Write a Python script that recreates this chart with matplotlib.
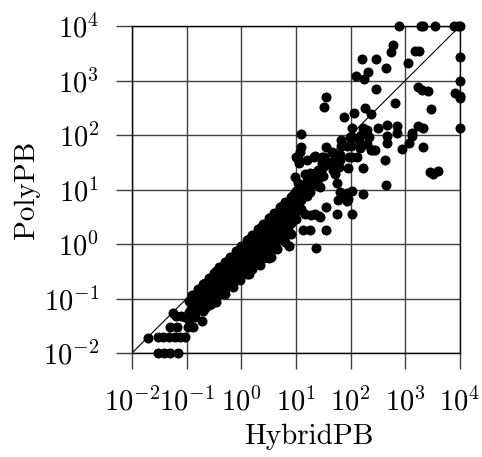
import matplotlib
matplotlib.use("Agg")
import matplotlib.pyplot as plt

plt.rcParams['mathtext.fontset'] = 'cm'
plt.rcParams['font.family'] = 'cmr10'
plt.rcParams['axes.formatter.use_mathtext'] = True

# run times (HybridPB on x, PolyPB on y)
# tiny instances, bottom left
low_x = [0.020, 0.030, 0.037, 0.048, 0.061, 0.076, 0.093, 0.030, 0.039, 0.050,
         0.070, 0.050, 0.066, 0.105, 0.13, 0.063, 0.079, 0.093, 0.19, 0.056]
low_y = [0.019, 0.020, 0.020, 0.020, 0.020, 0.020, 0.020, 0.010, 0.010, 0.010,
         0.010, 0.030, 0.030, 0.030, 0.030, 0.048, 0.048, 0.046, 0.039, 0.054]

# the dense band just under the diagonal
band_x = [0.11, 0.11, 0.11,
          0.14, 0.14, 0.14, 0.14,
          0.18, 0.18, 0.18,
          0.22, 0.22, 0.22, 0.22,
          0.28, 0.28, 0.28, 0.28,
          0.35, 0.35, 0.35, 0.35,
          0.45, 0.45, 0.45, 0.45,
          0.56, 0.56, 0.56, 0.56,
          0.71, 0.71, 0.71, 0.71,
          0.89, 0.89, 0.89, 0.89, 0.89,
          1.12, 1.12, 1.12, 1.12,
          1.41, 1.41, 1.41, 1.41, 1.41,
          1.78, 1.78, 1.78, 1.78, 1.78,
          2.24, 2.24, 2.24, 2.24,
          2.82, 2.82, 2.82, 2.82, 2.82,
          3.55, 3.55, 3.55, 3.55, 3.55,
          4.47, 4.47, 4.47, 4.47,
          5.62, 5.62, 5.62, 5.62, 5.62,
          7.08, 7.08, 7.08, 7.08,
          8.91, 8.91, 8.91, 8.91,
          11.2, 11.2, 11.2,
          14.1, 14.1,
          17.8, 17.8,
          22.4, 22.4,
          28.2]
band_y = [0.089, 0.056, 0.040,
          0.117, 0.085, 0.059, 0.045,
          0.135, 0.093, 0.063,
          0.195, 0.141, 0.10, 0.068,
          0.224, 0.158, 0.112, 0.079,
          0.316, 0.234, 0.170, 0.117,
          0.339, 0.245, 0.170, 0.126,
          0.479, 0.355, 0.257, 0.178,
          0.562, 0.407, 0.295, 0.20,
          0.776, 0.589, 0.447, 0.324, 0.234,
          0.891, 0.676, 0.49, 0.355,
          1.26, 0.977, 0.741, 0.537, 0.389,
          1.45, 1.07, 0.794, 0.562, 0.427,
          1.95, 1.48, 1.12, 0.794,
          2.24, 1.62, 1.17, 0.794, 0.589,
          3.16, 2.40, 1.78, 1.29, 0.891,
          3.63, 2.69, 1.95, 1.35,
          4.90, 3.72, 2.69, 1.86, 1.26,
          5.62, 4.07, 2.82, 1.86,
          7.94, 5.89, 4.17, 2.82,
          8.91, 6.31, 4.27,
          11.7, 8.51,
          13.5, 8.91,
          20.0, 14.8,
          20.0]

# more of the band, the columns in between
band2_x = [0.126, 0.126, 0.126, 0.126,
           0.158, 0.158, 0.158, 0.158,
           0.20, 0.20, 0.20, 0.20, 0.20,
           0.251, 0.251, 0.251, 0.251, 0.251,
           0.316, 0.316, 0.316, 0.316, 0.316,
           0.398, 0.398, 0.398, 0.398, 0.398,
           0.501, 0.501, 0.501, 0.501, 0.501,
           0.631, 0.631, 0.631, 0.631, 0.631,
           0.794, 0.794, 0.794, 0.794, 0.794,
           1.0, 1.0, 1.0, 1.0, 1.0,
           1.26, 1.26, 1.26, 1.26, 1.26, 1.26,
           1.58, 1.58, 1.58, 1.58, 1.58, 1.58,
           2.0, 2.0, 2.0, 2.0, 2.0, 2.0,
           2.51, 2.51, 2.51, 2.51, 2.51, 2.51,
           3.16, 3.16, 3.16, 3.16, 3.16, 3.16,
           3.98, 3.98, 3.98, 3.98, 3.98, 3.98,
           5.01, 5.01, 5.01, 5.01, 5.01,
           6.31, 6.31, 6.31, 6.31, 6.31, 6.31,
           7.94, 7.94, 7.94, 7.94, 7.94,
           10.0, 10.0, 10.0, 10.0, 10.0,
           12.6, 12.6, 12.6, 12.6,
           15.8, 15.8, 15.8,
           20.0, 20.0,
           25.1, 25.1,
           31.6, 31.6]
band2_y = [0.117, 0.089, 0.068, 0.050,
           0.148, 0.112, 0.085, 0.063,
           0.186, 0.141, 0.107, 0.079, 0.060,
           0.234, 0.178, 0.135, 0.10, 0.076,
           0.295, 0.224, 0.170, 0.126, 0.095,
           0.372, 0.282, 0.214, 0.158, 0.120,
           0.468, 0.355, 0.269, 0.20, 0.151,
           0.589, 0.447, 0.339, 0.251, 0.191,
           0.741, 0.562, 0.427, 0.316, 0.240,
           0.933, 0.708, 0.537, 0.398, 0.302,
           1.17, 0.891, 0.676, 0.501, 0.380, 0.282,
           1.48, 1.12, 0.851, 0.631, 0.479, 0.355,
           1.86, 1.41, 1.07, 0.794, 0.603, 0.447,
           2.34, 1.78, 1.35, 1.0, 0.759, 0.562,
           2.95, 2.24, 1.70, 1.26, 0.955, 0.708,
           3.72, 2.82, 2.14, 1.58, 1.20, 0.891,
           4.68, 3.55, 2.69, 2.0, 1.51,
           5.89, 4.47, 3.39, 2.51, 1.91, 1.41,
           7.41, 5.62, 4.27, 3.16, 2.40,
           9.33, 7.08, 5.37, 3.98, 2.82,
           11.7, 8.91, 6.31, 4.47,
           14.1, 10.5, 7.59,
           16.6, 12.0,
           22.4, 15.8,
           26.0, 18.0]

# lower edge of the band
edge_low_x = [0.35, 0.50, 0.71, 1.41, 2.24, 3.16, 4.47, 6.3, 8.0]
edge_low_y = [0.085, 0.12, 0.16, 0.28, 0.42, 0.55, 0.80, 1.1, 1.5]

# scattered points below the band
mid_x = [0.96, 4.2, 3.5, 7.6, 13.5, 18, 23, 35, 22, 26, 36, 14.5, 19, 28, 57,
         59, 71, 104, 91, 107, 170, 440, 85, 85, 56, 63]
mid_y = [0.22, 1.0, 0.58, 0.93, 1.8, 1.8, 0.83, 1.8, 3.6, 3.2, 4.7, 3.6, 3.4, 3.1, 3.6,
         6.5, 8.0, 3.6, 6.6, 9.5, 8.1, 12, 8.5, 6.1, 13, 9.1]

# points around 10..100
near_x = [9.5, 11, 18, 14.5, 26, 34, 28, 51, 10.2, 11.4, 16, 22, 30, 11.8, 11,
          21, 32, 30, 45, 46, 61, 51, 42, 63, 48, 61, 63, 59, 85, 98, 105, 93,
          91, 170, 426, 12.6, 12.6, 35, 130, 147, 235, 277, 160]
near_y = [17, 13, 20, 19, 20, 28, 11, 19, 39, 31, 35, 42, 40, 49, 37,
          40, 40, 30, 30, 49, 45, 37, 32, 35, 23, 26, 43, 32, 62, 93, 40, 40,
          25, 25, 35, 104, 59, 59, 40, 57, 53, 53, 66]

# upper right scatter
high_x = [66, 66, 102, 107, 152, 128, 213, 147, 195, 256, 875, 2090, 710, 470, 470,
          1320, 1180, 455, 690, 310, 170, 195, 104, 1740, 2090, 74, 115, 240, 182,
          3000, 645, 33, 36, 295, 1700, 2050, 2630, 123, 175, 205, 440, 1100, 162,
          290, 1500, 1780, 550, 590, 2800, 3240, 3900, 1320]
high_y = [81, 62, 62, 91, 100, 89, 93, 71, 68, 53, 55, 59, 107, 96, 72,
          96, 72, 152, 145, 135, 132, 123, 132, 148, 135, 210, 257, 245, 315,
          300, 380, 325, 490, 705, 775, 675, 650, 1230, 1070, 1450, 1700, 2080, 2450,
          2450, 3500, 3500, 3300, 4500, 21, 19, 21.4, 107]

# instances that hit the time limit
edge_x = [760, 1900, 2130, 3470, 7800, 9300, 10000, 10000, 10000, 8200, 10000, 10000, 10000]
edge_y = [10000, 10000, 10000, 10000, 10000, 10000, 10000, 2750, 1000, 600, 470, 520, 132]

lims = [1e-2, 1e4]

fig = plt.figure(figsize=(4.82, 4.57), dpi=100)
ax = fig.add_axes([132 / 482, 1 - 353 / 457, 328 / 482, 327 / 457])

ax.plot(lims, lims, color='k', lw=0.8, zorder=2)
for xs, ys in [(low_x, low_y), (band_x, band_y), (band2_x, band2_y),
               (edge_low_x, edge_low_y), (mid_x, mid_y),
               (near_x, near_y), (high_x, high_y), (edge_x, edge_y)]:
    ax.scatter(xs, ys, s=52, c='k', linewidths=0, clip_on=False, zorder=3)

ax.set_xscale('log')
ax.set_yscale('log')
ax.set_xlim(lims)
ax.set_ylim(lims)
ax.set_xticks([1e-2, 1e-1, 1e0, 1e1, 1e2, 1e3, 1e4])
ax.set_yticks([1e-2, 1e-1, 1e0, 1e1, 1e2, 1e3, 1e4])
ax.minorticks_off()
ax.grid(True, color='0.25', lw=1.0)
ax.set_axisbelow(True)
for s in ax.spines.values():
    s.set_color('k')
    s.set_linewidth(1.0)
ax.tick_params(axis='both', direction='out', length=11.5, width=1.0,
               color='0.25', labelsize=20.5)
ax.tick_params(axis='x', pad=13)
ax.tick_params(axis='y', pad=12)

fig.text(309 / 482, 1 - 437 / 457, 'HybridPB', fontsize=21,
         ha='center', va='center')
fig.text(27 / 482, 1 - 190 / 457, 'PolyPB', fontsize=21,
         ha='center', va='center', rotation=90)

fig.savefig('out.png', dpi=100)
